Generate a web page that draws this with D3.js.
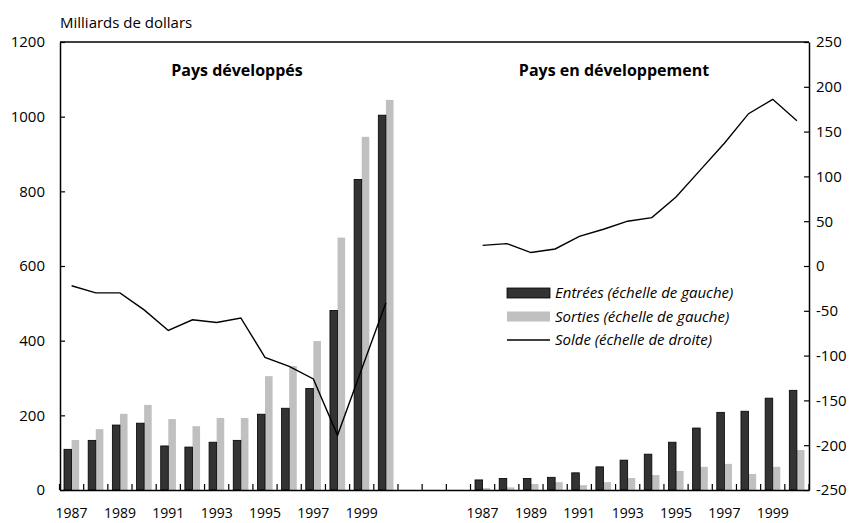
<!DOCTYPE html>
<html>
<head>
<meta charset="utf-8">
<script src="https://cdnjs.cloudflare.com/ajax/libs/d3/7.8.5/d3.min.js"></script>
<style>
  body { margin: 0; background: #fff; }
  svg text { font-family: "Open Sans", Lato, sans-serif; fill: #000; }
</style>
</head>
<body>
<div id="chart"></div>
<script>
// years shown in each panel
var years = [1987, 1988, 1989, 1990, 1991, 1992, 1993, 1994, 1995, 1996, 1997, 1998, 1999, 2000];

// Pays développés (milliards de dollars)
var devEntrees = [109, 133, 174, 179, 118, 115, 128, 133, 203, 219, 272, 481, 832, 1004];
var devSorties = [134, 163, 204, 228, 190, 171, 193, 193, 305, 332, 399, 676, 946, 1045];
var devSolde   = [-22, -30, -30, -49, -72, -60, -63, -58, -102, -112, -126, -189, -115, -41];

// Pays en développement
var pedEntrees = [27, 31, 31, 34, 46, 62, 80, 96, 128, 166, 208, 211, 246, 267];
var pedSorties = [5, 7, 16, 21, 13, 21, 32, 40, 51, 62, 70, 43, 62, 107];
var pedSolde   = [23, 25, 15, 19, 33, 41, 50, 54, 77, 107, 137, 170, 186, 162];

var leftTicks = [0, 200, 400, 600, 800, 1000, 1200];
var rightTicks = [-250, -200, -150, -100, -50, 0, 50, 100, 150, 200, 250];
var labelYears = [1987, 1989, 1991, 1993, 1995, 1997, 1999];

var width = 861, height = 523;
var x0 = 59.5, x1 = 809, yTop = 42, yBase = 490;
var fontSize = 15;

var svg = d3.select("#chart").append("svg")
    .attr("width", width)
    .attr("height", height);

// one slot per year on each side, three empty slots between
var keys = years.map(function(y) { return "L" + y; })
  .concat(["g1", "g2", "g3"])
  .concat(years.map(function(y) { return "R" + y; }));

var x = d3.scaleBand().domain(keys).range([x0, x1]).padding(0);
var xs = d3.scaleBand().domain(["in", "out"])
  .range([x.bandwidth() * 0.186, x.bandwidth() * 0.814]).padding(0);

var yL = d3.scaleLinear().domain([0, 1200]).range([yBase, yTop]);
var yR = d3.scaleLinear().domain([-250, 250]).range([yBase, yTop]);

function rows(prefix, ent, sor, sol) {
  return years.map(function(y, i) {
    return { key: prefix + y, year: y, ent: ent[i], sor: sor[i], sol: sol[i] };
  });
}
var panels = [rows("L", devEntrees, devSorties, devSolde), rows("R", pedEntrees, pedSorties, pedSolde)];

// bars
panels.forEach(function(data) {
  var g = svg.append("g");
  g.selectAll("rect.sor").data(data).enter().append("rect")
    .attr("class", "sor")
    .attr("x", function(d) { return x(d.key) + xs("out"); })
    .attr("y", function(d) { return yL(d.sor); })
    .attr("width", xs.bandwidth())
    .attr("height", function(d) { return yL(0) - yL(d.sor); })
    .attr("fill", "#c0c0c0");
  g.selectAll("rect.ent").data(data).enter().append("rect")
    .attr("class", "ent")
    .attr("x", function(d) { return x(d.key) + xs("in"); })
    .attr("y", function(d) { return yL(d.ent); })
    .attr("width", xs.bandwidth())
    .attr("height", function(d) { return yL(0) - yL(d.ent); })
    .attr("fill", "#333333")
    .attr("stroke", "#000")
    .attr("stroke-width", 0.8);
});

// solde lines (right scale)
var line = d3.line()
  .x(function(d) { return x(d.key) + x.bandwidth() / 2; })
  .y(function(d) { return yR(d.sol); });

panels.forEach(function(data) {
  svg.append("path")
    .datum(data)
    .attr("d", line)
    .attr("fill", "none")
    .attr("stroke", "#000")
    .attr("stroke-width", 1.4);
});

// top frame line
svg.append("line")
  .attr("x1", 60).attr("x2", x1)
  .attr("y1", yTop).attr("y2", yTop)
  .attr("stroke", "#000").attr("stroke-width", 1.5);

var plain = function(d) { return String(d); };

// left axis
var axL = svg.append("g")
  .attr("transform", "translate(60,0)")
  .call(d3.axisLeft(yL).tickValues(leftTicks).tickFormat(plain)
    .tickSize(-5).tickSizeOuter(0).tickPadding(15));

// right axis
var axR = svg.append("g")
  .attr("transform", "translate(" + x1 + ",0)")
  .call(d3.axisRight(yR).tickValues(rightTicks).tickFormat(plain)
    .tickSize(-5).tickSizeOuter(0).tickPadding(7));

// bottom axis: labels on odd years, centered on the slot
var labelKeys = [];
labelYears.forEach(function(y) { labelKeys.push("L" + y); });
labelYears.forEach(function(y) { labelKeys.push("R" + y); });

var axB = svg.append("g")
  .attr("transform", "translate(0," + yBase + ")")
  .call(d3.axisBottom(x).tickValues(labelKeys).tickSize(0).tickSizeOuter(0).tickPadding(18)
    .tickFormat(function(k) { return k.slice(1); }));

// boundary ticks between slots
var bounds = keys.map(function(k) { return x(k); }).concat([x1]);
svg.append("g").selectAll("line").data(bounds).enter().append("line")
  .attr("x1", function(d) { return d; })
  .attr("x2", function(d) { return d; })
  .attr("y1", yBase)
  .attr("y2", yBase - 6)
  .attr("stroke", "#000")
  .attr("stroke-width", 1.2);

[axL, axR, axB].forEach(function(a) {
  a.selectAll(".domain").attr("stroke", "#000").attr("stroke-width", 1.5);
  a.selectAll(".tick line").attr("stroke", "#000").attr("stroke-width", 1.2);
  a.selectAll("text").attr("font-size", fontSize).attr("font-family", "'Open Sans', sans-serif").attr("fill", "#000");
});
axB.selectAll("text").attr("font-size", 14);

// unit label
svg.append("text")
  .attr("x", 60).attr("y", 28)
  .attr("font-size", fontSize)
  .text("Milliards de dollars");

// panel titles
svg.append("text")
  .attr("x", 237).attr("y", 76)
  .attr("text-anchor", "middle")
  .attr("font-size", 16).attr("font-weight", "bold")
  .text("Pays développés");
svg.append("text")
  .attr("x", 614).attr("y", 76)
  .attr("text-anchor", "middle")
  .attr("font-size", 16).attr("font-weight", "bold")
  .text("Pays en développement");

// legend
var legend = svg.append("g").attr("transform", "translate(507,293)");
var legItems = [
  { type: "rect", fill: "#333333", label: "Entrées (échelle de gauche)" },
  { type: "rect", fill: "#c0c0c0", label: "Sorties (échelle de gauche)" },
  { type: "line", label: "Solde (échelle de droite)" }
];
legItems.forEach(function(it, i) {
  var gy = i * 23.5;
  if (it.type === "rect") {
    legend.append("rect")
      .attr("x", 0).attr("y", gy - 5)
      .attr("width", 43).attr("height", 10)
      .attr("fill", it.fill)
      .attr("stroke", it.fill === "#333333" ? "#000" : "none")
      .attr("stroke-width", 0.8);
  } else {
    legend.append("line")
      .attr("x1", 0).attr("x2", 43)
      .attr("y1", gy).attr("y2", gy)
      .attr("stroke", "#000").attr("stroke-width", 1.4);
  }
  legend.append("text")
    .attr("x", 48).attr("y", gy + 5)
    .attr("font-size", fontSize)
    .attr("font-style", "italic")
    .text(it.label);
});
</script>
</body>
</html>
